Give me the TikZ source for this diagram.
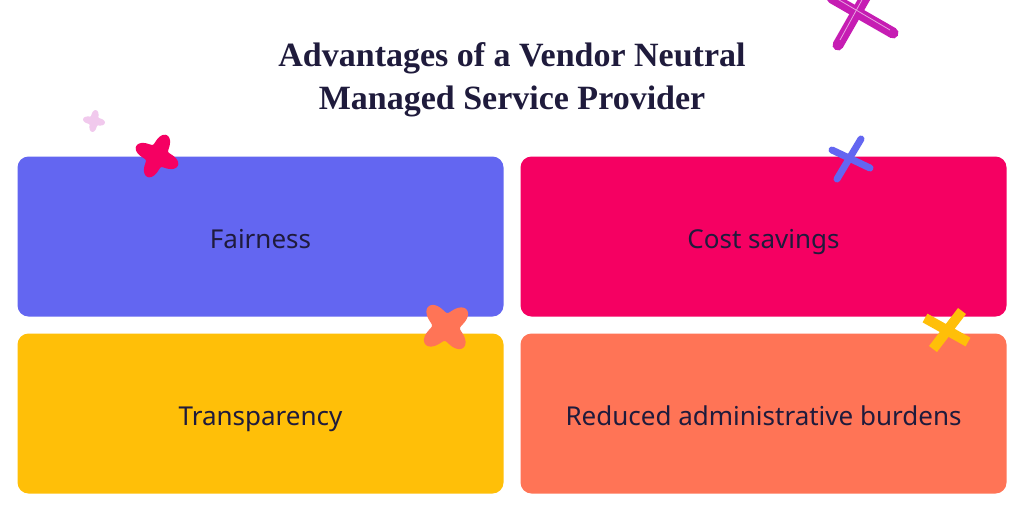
\documentclass[tikz,border=0pt]{standalone}
\usepackage{fontspec}
\setmainfont{Noto Sans}
\newfontfamily\titlefont{Liberation Serif}
\definecolor{cblue}{HTML}{6366F1}
\definecolor{cpink}{HTML}{F50062}
\definecolor{cyellow}{HTML}{FFBF08}
\definecolor{corange}{HTML}{FF7456}
\definecolor{cmag}{HTML}{C61DB3}
\definecolor{ctext}{HTML}{1F1B3C}
\tikzset{
  card/.style={rounded corners=11pt, inner sep=0pt, minimum width=486pt, minimum height=160pt},
  lbl/.style={inner sep=0pt, font=\fontsize{26}{30}\selectfont, text=ctext, text height=18.6pt, text depth=0pt},
  cross/.style={line width=7pt, line cap=round}
}
\newcommand{\starshape}[5]{% x y R rot colour
  \fill[#5] plot[domain=0:360, samples=97, smooth cycle, variable=\t]
    ({#1+#3*(0.76+0.24*cos(4*\t))*cos(\t+#4)},{#2+#3*(0.76+0.24*cos(4*\t))*sin(\t+#4)});}
\begin{document}
\begin{tikzpicture}[x=1pt,y=-1pt]
\useasboundingbox[fill=white] (0,0) rectangle (1024,512);
% title
\node[font=\titlefont\bfseries\fontsize{34}{43}\selectfont, text=ctext, align=center] (title) at (512,80) {Advantages of a Vendor Neutral\\Managed Service Provider};
% cards
\node[card, fill=cblue] (fair) at (260.5,236.5) {};
\node[card, fill=cpink] (cost) at (763.5,236.5) {};
\node[card, fill=cyellow] (trans) at (260.5,413.5) {};
\node[card, fill=corange] (red) at (763.5,413.5) {};
\node[lbl] (tfair) at ([yshift=-3pt]fair.center) {Fairness};
\node[lbl] (tcost) at ([yshift=-3pt]cost.center) {Cost savings};
\node[lbl] (ttrans) at ([yshift=-3pt]trans.center) {Transparency};
\node[lbl] (tred) at ([yshift=-3pt]red.center) {Reduced administrative burdens};
% decorations
\starshape{94}{121}{11}{10}{cmag!40, opacity=0.6}
\starshape{157}{156}{23}{-65}{cpink}
\starshape{446}{327}{27}{-40}{corange}
\draw[cross, cblue] (832,150) -- (870,168);
\draw[cross, cblue] (861,139) -- (837,179);
\draw[line width=10pt, cyellow] (925,318) -- (968,342);
\draw[line width=10pt, cyellow] (962,311) -- (933,349);
\draw[line width=11pt, cmag, line cap=round] (832,-2) -- (893,33);
\draw[line width=11pt, cmag, line cap=round] (866,-4) -- (838,45);
\draw[line width=0.8pt, cmag!40] (834,-3) -- (890,30);
\draw[line width=0.8pt, cmag!40] (863,-2) -- (840,40);
\end{tikzpicture}
\end{document}
